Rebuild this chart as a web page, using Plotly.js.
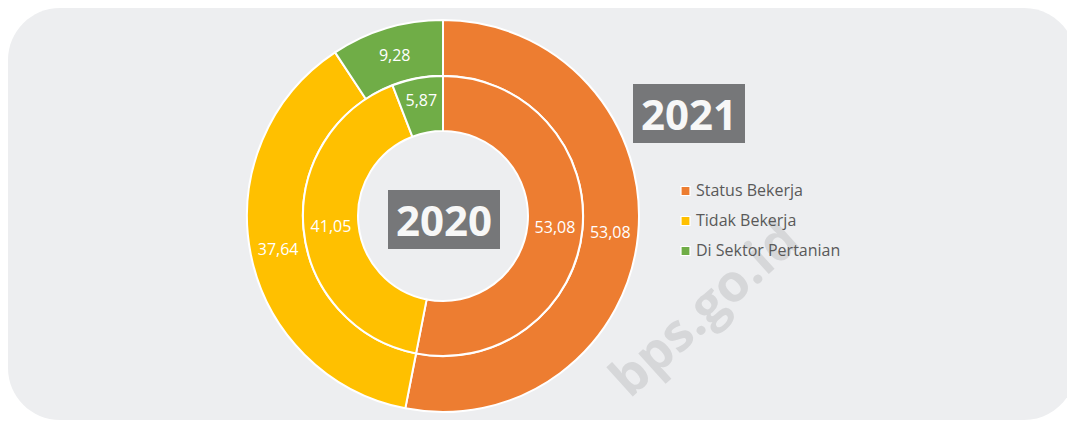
<!DOCTYPE html>
<html>
<head>
<meta charset="utf-8">
<script src="https://cdn.plot.ly/plotly-3.0.1.min.js"></script>
<style>
  html, body { margin: 0; padding: 0; background: #ffffff; }
  #chart { width: 1067px; height: 421px; }
</style>
</head>
<body>
<div id="chart"></div>
<script>
// ---- Data ----
const categories = ["Status Bekerja", "Tidak Bekerja", "Di Sektor Pertanian"];
const values2021 = [53.08, 37.64, 9.28];   // outer ring
const values2020 = [53.08, 41.05, 5.87];   // inner ring
const colors = ["#ED7D31", "#FFC000", "#70AD47"];
const yearLabels = ["2020", "2021"];
const watermark = "bps.go.id";

// ---- Helpers (pixel -> paper) ----
const W = 1067, H = 421;
const px = x => x / W;
const py = y => 1 - y / H;

function roundedRectPath(x0, y0, x1, y1, r) {
  const k = 0.5523 * r;
  const P = (x, y) => px(x) + "," + py(y);
  return "M" + P(x0 + r, y0) +
    " L" + P(x1 - r, y0) +
    " C" + P(x1 - r + k, y0) + " " + P(x1, y0 + r - k) + " " + P(x1, y0 + r) +
    " L" + P(x1, y1 - r) +
    " C" + P(x1, y1 - r + k) + " " + P(x1 - r + k, y1) + " " + P(x1 - r, y1) +
    " L" + P(x0 + r, y1) +
    " C" + P(x0 + r - k, y1) + " " + P(x0, y1 - r + k) + " " + P(x0, y1 - r) +
    " L" + P(x0, y0 + r) +
    " C" + P(x0, y0 + r - k) + " " + P(x0 + r - k, y0) + " " + P(x0 + r, y0) + " Z";
}

const cx = 443, cy = 216, rOuter = 196, rInner = 140;

const common = {
  type: "pie",
  labels: categories,
  sort: false,
  direction: "clockwise",
  rotation: 0,
  marker: { colors: colors, line: { color: "#ffffff", width: 2 } },
  texttemplate: "%{value:.2f}",
  textposition: "inside",
  insidetextorientation: "horizontal",
  insidetextfont: { family: "Open Sans, Noto Sans, sans-serif", size: 16, color: "#ffffff" },
  hoverinfo: "none",
  showlegend: false
};

const outer = Object.assign({}, common, {
  name: yearLabels[1],
  values: values2021,
  hole: 0.715,
  domain: { x: [px(cx - rOuter), px(cx + rOuter)], y: [py(cy + rOuter), py(cy - rOuter)] }
});
const inner = Object.assign({}, common, {
  name: yearLabels[0],
  values: values2020,
  hole: 0.607,
  domain: { x: [px(cx - rInner), px(cx + rInner)], y: [py(cy + rInner), py(cy - rInner)] }
});

const shapes = [{
  type: "path", xref: "paper", yref: "paper", layer: "below",
  path: roundedRectPath(8, 8, 1076, 420, 52),
  fillcolor: "#EDEEF0", line: { width: 0 }
}];

const annotations = [{
  text: watermark, xref: "paper", yref: "paper",
  x: px(702), y: py(306), xanchor: "center", yanchor: "middle",
  showarrow: false, textangle: -42,
  font: { family: "Open Sans, sans-serif", size: 52, color: "#D6D7D9", weight: "bold" }
}];

// Year boxes
const yearBoxes = [
  { text: yearLabels[0], x: 443.5, y: 219.5 },
  { text: yearLabels[1], x: 689, y: 113.5 }
];
yearBoxes.forEach(b => annotations.push({
  text: "<b>" + b.text + "</b>", xref: "paper", yref: "paper",
  x: px(b.x), y: py(b.y), xanchor: "center", yanchor: "middle",
  showarrow: false, width: 112, height: 59, bgcolor: "#767779",
  borderpad: 0, borderwidth: 0, align: "center", valign: "middle",
  font: { family: "Open Sans, sans-serif", size: 42, color: "#F7F7F7" }
}));

// Legend (drawn manually to match spacing)
categories.forEach((c, i) => {
  const yc = 190 + i * 30;
  shapes.push({
    type: "rect", xref: "paper", yref: "paper",
    x0: px(681), x1: px(690), y0: py(yc + 5.5), y1: py(yc - 3.5),
    fillcolor: colors[i], line: { color: "#ffffff", width: 1.2 }
  });
  annotations.push({
    text: c, xref: "paper", yref: "paper",
    x: px(694), y: py(yc), xanchor: "left", yanchor: "middle",
    showarrow: false,
    font: { family: "Open Sans, sans-serif", size: 16, color: "#595959" }
  });
});

const layout = {
  width: W, height: H,
  margin: { l: 0, r: 0, t: 0, b: 0 },
  paper_bgcolor: "#ffffff",
  plot_bgcolor: "rgba(0,0,0,0)",
  separators: ",.",
  showlegend: false,
  shapes: shapes,
  annotations: annotations
};

Plotly.newPlot("chart", [outer, inner], layout, { displayModeBar: false, staticPlot: true });
</script>
</body>
</html>
